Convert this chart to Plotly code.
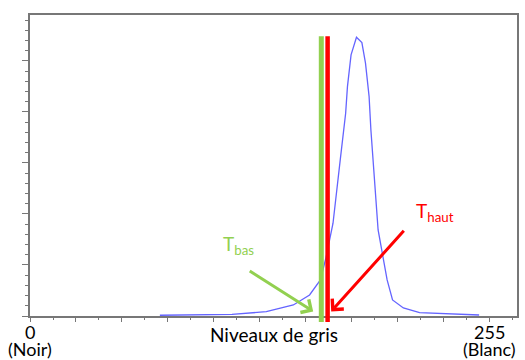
import plotly.graph_objects as go

# Histogram (gray level, count)
gray_levels = [72, 94, 112, 131, 146, 155, 161, 164, 168, 172, 173, 175, 176, 178,
               181, 184, 186, 188, 189, 190, 191, 193, 195, 198, 201, 207, 216, 231, 249]
counts = [15, 20, 33, 84, 216, 412, 706, 1131, 1818, 3059, 3386, 3975, 4496, 5118,
          5465, 5359, 4955, 4300, 3647, 3196, 2667, 1686, 1294, 706, 314, 157, 65, 39, 20]

t_bas = 161.5
t_haut = 165.0

major_ticks = [0, 25.5, 51, 76.5, 102, 127.5, 153, 178.5, 204, 229.5, 255]
end_values = [0, 255]
end_labels = ["0", "255"]
end_names = ["(Noir)", "(Blanc)"]

FONT = "Lato"
GREEN = "#92D050"
RED = "#FF0000"
AXC = "#777777"

fig = go.Figure()
fig.add_trace(go.Scatter(x=gray_levels, y=counts, mode="lines",
                         line=dict(color="#6464FF", width=1.3), hoverinfo="skip"))

for xv, col, w in [(t_bas, GREEN, 5), (t_haut, RED, 4.5)]:
    fig.add_shape(type="line", xref="x", yref="paper", x0=xv, x1=xv, y0=-0.02, y1=0.929,
                  line=dict(color=col, width=w), layer="above")

fig.add_annotation(x=157, y=90, ax=121, ay=900, xref="x", yref="y", axref="x", ayref="y",
                   showarrow=True, arrowhead=4, arrowsize=1, arrowwidth=3, arrowcolor=GREEN, text="")
fig.add_annotation(x=167, y=90, ax=208, ay=1700, xref="x", yref="y", axref="x", ayref="y",
                   showarrow=True, arrowhead=4, arrowsize=1, arrowwidth=3, arrowcolor=RED, text="")

fig.add_annotation(x=106, y=1390, xref="x", yref="y", showarrow=False, xanchor="left", yanchor="middle",
                   text="T<sub>bas</sub>", font=dict(family=FONT, size=19, color=GREEN))
fig.add_annotation(x=213, y=2030, xref="x", yref="y", showarrow=False, xanchor="left", yanchor="middle",
                   text="T<sub>haut</sub>", font=dict(family=FONT, size=19, color=RED))
fig.add_annotation(x=0.5, y=-0.06, xref="paper", yref="paper", showarrow=False, xanchor="center",
                   yanchor="middle", text="Niveaux de gris", font=dict(family=FONT, size=19, color="black"))

for xv, lab, name in zip(end_values, end_labels, end_names):
    fig.add_annotation(x=xv, y=-0.054, xref="x", yref="paper", showarrow=False, xanchor="center",
                       yanchor="middle", text=lab, font=dict(family=FONT, size=18, color="black"))
    fig.add_annotation(x=xv, y=-0.11, xref="x", yref="paper", showarrow=False, xanchor="center",
                       yanchor="middle", text=name, font=dict(family=FONT, size=18, color="black"))

fig.update_xaxes(range=[0, 270], showline=True, linecolor=AXC, linewidth=1.5, mirror=True,
                 showgrid=False, zeroline=False, ticks="outside", ticklen=4, tickwidth=1, tickcolor=AXC,
                 tickmode="array", tickvals=major_ticks, showticklabels=False, automargin=False,
                 minor=dict(ticks="outside", ticklen=2, dtick=12.75, tick0=0, tickcolor=AXC, showgrid=False))
fig.update_yaxes(range=[0, 5900], showline=True, linecolor=AXC, linewidth=1.5, mirror=True,
                 showgrid=False, zeroline=False, ticks="outside", ticklen=6, tickwidth=1, tickcolor=AXC,
                 dtick=1000, showticklabels=False, automargin=False,
                 minor=dict(ticks="outside", ticklen=3, dtick=200, tickcolor=AXC, showgrid=False))

fig.update_layout(width=525, height=360, margin=dict(l=30, r=8, t=15, b=44),
                  plot_bgcolor="white", paper_bgcolor="white", showlegend=False,
                  font=dict(family=FONT))
fig.write_html("out.html", config={"displayModeBar": False},
               post_script="document.body.style.margin='0';")
